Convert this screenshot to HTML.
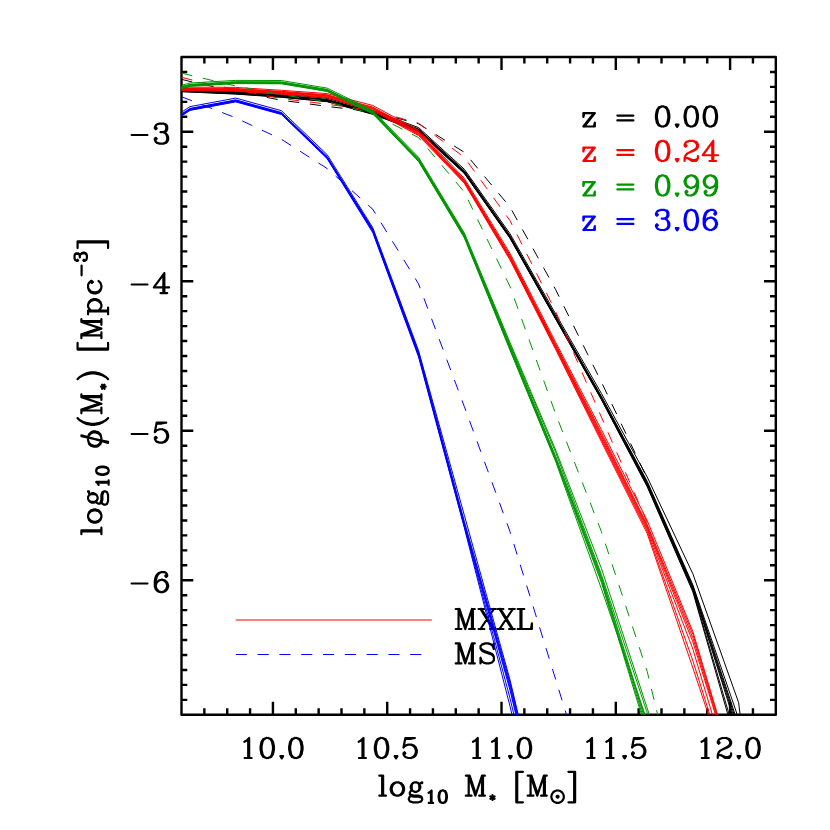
<!DOCTYPE html>
<html><head><meta charset="utf-8"><title>plot</title>
<style>html,body{margin:0;padding:0;background:#fff;font-family:"Liberation Sans",sans-serif}svg{display:block}</style></head>
<body>
<svg width="830" height="830" viewBox="0 0 830 830">
<rect width="830" height="830" fill="#fff"/>
<defs><clipPath id="c"><rect x="181.5" y="57.0" width="594.3" height="657.8"/></clipPath></defs>
<path d="M458.56 608.99L458.56 629M459.52 608.99L465.24 626.14M458.56 608.99L465.24 629M471.91 608.99L465.24 629M471.91 608.99L471.91 629M472.86 608.99L472.86 629M455.71 608.99L459.52 608.99M471.91 608.99L474.77 608.99M455.71 629L461.42 629M469.05 629L474.77 629M480.48 608.99L492.87 629M481.44 608.99L493.83 629M493.83 608.99L480.48 629M478.58 608.99L484.30 608.99M490.01 608.99L495.73 608.99M478.58 629L484.30 629M490.01 629L495.73 629M499.54 608.99L511.93 629M500.50 608.99L512.89 629M512.89 608.99L499.54 629M497.64 608.99L503.36 608.99M509.07 608.99L514.79 608.99M497.64 629L503.36 629M509.07 629L514.79 629M520.51 608.99L520.51 629M521.46 608.99L521.46 629M517.65 608.99L524.32 608.99M517.65 629L531.95 629L531.95 623.28L530.99 629" fill="none" stroke="#000" stroke-width="2.20" stroke-linecap="round" stroke-linejoin="round"/>
<path d="M458.56 643.39L458.56 663.40M459.52 643.39L465.24 660.54M458.56 643.39L465.24 663.40M471.91 643.39L465.24 663.40M471.91 643.39L471.91 663.40M472.86 643.39L472.86 663.40M455.71 643.39L459.52 643.39M471.91 643.39L474.77 643.39M455.71 663.40L461.42 663.40M469.05 663.40L474.77 663.40M492.87 646.25L493.83 643.39L493.83 649.11L492.87 646.25L490.97 644.34L488.11 643.39L485.25 643.39L482.39 644.34L480.48 646.25L480.48 648.15L481.44 650.06L482.39 651.01L484.30 651.96L490.01 653.87L491.92 654.82L493.83 656.73M480.48 648.15L482.39 650.06L484.30 651.01L490.01 652.92L491.92 653.87L492.87 654.82L493.83 656.73L493.83 660.54L491.92 662.45L489.06 663.40L486.20 663.40L483.34 662.45L481.44 660.54L480.48 657.68L480.48 663.40L481.44 660.54" fill="none" stroke="#000" stroke-width="2.20" stroke-linecap="round" stroke-linejoin="round"/>
<path d="M204.36 714.80v-6.60M204.36 57.00v6.60M227.22 714.80v-6.60M227.22 57.00v6.60M250.07 714.80v-6.60M250.07 57.00v6.60M272.93 714.80v-13.00M272.93 57.00v13.00M295.79 714.80v-6.60M295.79 57.00v6.60M318.65 714.80v-6.60M318.65 57.00v6.60M341.50 714.80v-6.60M341.50 57.00v6.60M364.36 714.80v-6.60M364.36 57.00v6.60M387.22 714.80v-13.00M387.22 57.00v13.00M410.08 714.80v-6.60M410.08 57.00v6.60M432.93 714.80v-6.60M432.93 57.00v6.60M455.79 714.80v-6.60M455.79 57.00v6.60M478.65 714.80v-6.60M478.65 57.00v6.60M501.51 714.80v-13.00M501.51 57.00v13.00M524.37 714.80v-6.60M524.37 57.00v6.60M547.22 714.80v-6.60M547.22 57.00v6.60M570.08 714.80v-6.60M570.08 57.00v6.60M592.94 714.80v-6.60M592.94 57.00v6.60M615.80 714.80v-13.00M615.80 57.00v13.00M638.65 714.80v-6.60M638.65 57.00v6.60M661.51 714.80v-6.60M661.51 57.00v6.60M684.37 714.80v-6.60M684.37 57.00v6.60M707.23 714.80v-6.60M707.23 57.00v6.60M730.08 714.80v-13.00M730.08 57.00v13.00M752.94 714.80v-6.60M752.94 57.00v6.60M181.50 699.85h5.80M775.80 699.85h-5.80M181.50 684.90h5.80M775.80 684.90h-5.80M181.50 669.95h5.80M775.80 669.95h-5.80M181.50 655.00h5.80M775.80 655.00h-5.80M181.50 640.05h5.80M775.80 640.05h-5.80M181.50 625.10h5.80M775.80 625.10h-5.80M181.50 610.15h5.80M775.80 610.15h-5.80M181.50 595.20h5.80M775.80 595.20h-5.80M181.50 580.25h11.80M775.80 580.25h-11.80M181.50 565.30h5.80M775.80 565.30h-5.80M181.50 550.35h5.80M775.80 550.35h-5.80M181.50 535.40h5.80M775.80 535.40h-5.80M181.50 520.45h5.80M775.80 520.45h-5.80M181.50 505.50h5.80M775.80 505.50h-5.80M181.50 490.55h5.80M775.80 490.55h-5.80M181.50 475.60h5.80M775.80 475.60h-5.80M181.50 460.65h5.80M775.80 460.65h-5.80M181.50 445.70h5.80M775.80 445.70h-5.80M181.50 430.75h11.80M775.80 430.75h-11.80M181.50 415.80h5.80M775.80 415.80h-5.80M181.50 400.85h5.80M775.80 400.85h-5.80M181.50 385.90h5.80M775.80 385.90h-5.80M181.50 370.95h5.80M775.80 370.95h-5.80M181.50 356.00h5.80M775.80 356.00h-5.80M181.50 341.05h5.80M775.80 341.05h-5.80M181.50 326.10h5.80M775.80 326.10h-5.80M181.50 311.15h5.80M775.80 311.15h-5.80M181.50 296.20h5.80M775.80 296.20h-5.80M181.50 281.25h11.80M775.80 281.25h-11.80M181.50 266.30h5.80M775.80 266.30h-5.80M181.50 251.35h5.80M775.80 251.35h-5.80M181.50 236.40h5.80M775.80 236.40h-5.80M181.50 221.45h5.80M775.80 221.45h-5.80M181.50 206.50h5.80M775.80 206.50h-5.80M181.50 191.55h5.80M775.80 191.55h-5.80M181.50 176.60h5.80M775.80 176.60h-5.80M181.50 161.65h5.80M775.80 161.65h-5.80M181.50 146.70h5.80M775.80 146.70h-5.80M181.50 131.75h11.80M775.80 131.75h-11.80M181.50 116.80h5.80M775.80 116.80h-5.80M181.50 101.85h5.80M775.80 101.85h-5.80M181.50 86.90h5.80M775.80 86.90h-5.80M181.50 71.95h5.80M775.80 71.95h-5.80" stroke="#000" stroke-width="2.40" fill="none" stroke-linecap="butt"/>
<rect x="181.50" y="57.00" width="594.30" height="657.80" fill="none" stroke="#000" stroke-width="2.40" stroke-linejoin="round"/>
<g clip-path="url(#c)" fill="none" stroke-linejoin="round">
<polyline points="235.8,620.0 431.8,620.0" stroke="#ff0000" stroke-width="1.0"/>
<polyline points="235.8,654.5 431.8,654.5" stroke="#0000ff" stroke-width="1.0" stroke-dasharray="11.1 10.7"/>
<polyline points="181.5,79.3 190.0,81.5 235.7,91.5 281.4,100.2 327.1,106.4 372.8,111.8 418.6,123.8 464.3,152.3 510.0,207.0 555.7,289.7 601.4,382.0 647.2,478.5" stroke="#000000" stroke-width="1.0" stroke-dasharray="11.1 10.7"/>
<polyline points="180.5,91.7 190.0,92.1 235.7,94.1 281.4,97.3 327.1,101.7 372.8,114.3 418.6,131.6 464.3,173.5 510.0,238.3 555.7,319.2 601.4,399.7 647.2,486.7 692.9,592.0 730.2,722.8" stroke="#000000" stroke-width="1.0"/>
<polyline points="180.5,91.4 190.0,91.8 235.7,93.8 281.4,97.0 327.1,101.4 372.8,114.0 418.6,131.3 464.3,173.1 510.0,238.0 555.7,318.9 601.4,399.3 647.2,486.0 692.9,590.5 731.6,722.8" stroke="#000000" stroke-width="1.0"/>
<polyline points="180.5,91.0 190.0,91.5 235.7,93.5 281.4,96.7 327.1,101.1 372.8,113.7 418.6,130.9 464.3,172.7 510.0,237.6 555.7,318.4 601.4,398.8 647.2,485.2 692.9,589.3 734.7,722.8" stroke="#000000" stroke-width="1.0"/>
<polyline points="180.5,90.7 190.0,91.1 235.7,93.1 281.4,96.3 327.1,100.7 372.8,113.2 418.6,130.4 464.3,172.3 510.0,237.2 555.7,317.9 601.4,398.2 647.2,484.3 692.9,588.3 735.7,722.8" stroke="#000000" stroke-width="1.0"/>
<polyline points="180.5,90.2 190.0,90.7 235.7,92.7 281.4,95.9 327.1,100.3 372.8,112.8 418.6,130.0 464.3,171.8 510.0,236.7 555.7,317.4 601.4,397.6 647.2,483.4 692.9,587.3 736.8,722.8" stroke="#000000" stroke-width="1.0"/>
<polyline points="180.5,89.9 190.0,90.3 235.7,92.3 281.4,95.5 327.1,99.9 372.8,112.4 418.6,129.5 464.3,171.3 510.0,236.2 555.7,316.8 601.4,397.0 647.2,482.4 692.9,586.3 737.8,722.8" stroke="#000000" stroke-width="1.0"/>
<polyline points="180.5,89.4 190.0,89.8 235.7,91.8 281.4,95.0 327.1,99.4 372.8,111.9 418.6,128.9 464.3,170.7 510.0,235.5 555.7,316.1 601.4,396.3 647.2,481.3 692.9,585.0 740.0,722.8" stroke="#000000" stroke-width="1.0"/>
<polyline points="180.5,88.2 190.0,88.7 235.7,90.7 281.4,93.9 327.1,98.3 372.8,110.7 418.6,127.6 464.3,169.2 510.0,233.7 555.7,314.0 601.4,393.4 647.2,477.0 692.9,573.9 738.6,702.5 740.8,719.8" stroke="#000000" stroke-width="1.0"/>
<polyline points="181.5,77.3 190.0,79.5 235.7,89.8 281.4,98.5 327.1,104.2 372.8,110.5 418.6,123.3 464.3,157.3 510.0,220.6 555.7,311.5 601.4,417.1 647.2,522.3 651.2,532.5" stroke="#ff0000" stroke-width="1.0" stroke-dasharray="11.1 10.7"/>
<polyline points="180.5,90.5 190.0,90.7 235.7,91.2 281.4,94.1 327.1,97.6 372.8,110.9 418.6,135.6 464.3,183.2 510.0,259.9 555.7,349.5 601.4,441.7 647.2,533.5 692.9,668.0 711.1,722.8" stroke="#ff0000" stroke-width="1.0"/>
<polyline points="180.5,90.0 190.0,90.1 235.7,90.6 281.4,93.5 327.1,97.0 372.8,110.0 418.6,134.7 464.3,182.4 510.0,258.9 555.7,348.4 601.4,439.9 647.2,531.2 692.9,660.8 712.3,722.8" stroke="#ff0000" stroke-width="1.0"/>
<polyline points="180.5,89.4 190.0,89.6 235.7,90.0 281.4,92.9 327.1,96.3 372.8,109.2 418.6,133.9 464.3,181.7 510.0,257.8 555.7,347.2 601.4,438.1 647.2,529.2 692.9,649.2 714.8,722.8" stroke="#ff0000" stroke-width="1.0"/>
<polyline points="180.5,89.0 190.0,89.1 235.7,89.5 281.4,92.4 327.1,95.8 372.8,108.5 418.6,133.2 464.3,181.1 510.0,257.0 555.7,346.3 601.4,436.3 647.2,527.4 692.9,641.9 718.0,722.8" stroke="#ff0000" stroke-width="1.0"/>
<polyline points="180.5,88.5 190.0,88.6 235.7,89.0 281.4,91.9 327.1,95.3 372.8,107.8 418.6,132.5 464.3,180.4 510.0,256.1 555.7,345.3 601.4,434.5 647.2,526.0 692.9,637.9 718.7,722.8" stroke="#ff0000" stroke-width="1.0"/>
<polyline points="180.5,88.1 190.0,88.1 235.7,88.5 281.4,91.4 327.1,94.8 372.8,107.1 418.6,131.8 464.3,179.8 510.0,255.2 555.7,344.4 601.4,432.7 647.2,524.6 692.9,634.3 719.4,722.8" stroke="#ff0000" stroke-width="1.0"/>
<polyline points="180.5,87.1 190.0,87.1 235.7,87.4 281.4,90.3 327.1,93.6 372.8,105.5 418.6,130.2 464.3,178.4 510.0,253.3 555.7,342.3 601.4,429.7 647.2,520.5 692.9,631.6 720.0,722.8" stroke="#ff0000" stroke-width="1.0"/>
<polyline points="181.5,73.1 190.0,75.2 235.7,86.0 281.4,94.8 327.1,101.6 372.8,113.8 418.6,137.7 464.3,192.0 510.0,286.5 555.7,414.1 601.4,531.6 647.2,671.5 658.7,718.9" stroke="#009600" stroke-width="1.0" stroke-dasharray="11.1 10.7"/>
<polyline points="180.5,88.9 190.0,86.3 235.7,83.6 281.4,83.8 327.1,91.5 372.8,113.9 418.6,161.6 464.3,237.8 510.0,350.2 555.7,461.6 601.4,588.8 647.9,722.8" stroke="#009600" stroke-width="1.0"/>
<polyline points="180.5,88.5 190.0,85.9 235.7,83.2 281.4,83.4 327.1,91.1 372.8,113.5 418.6,161.0 464.3,237.1 510.0,349.1 555.7,460.3 601.4,582.5 643.9,722.8" stroke="#009600" stroke-width="1.0"/>
<polyline points="180.5,88.1 190.0,85.5 235.7,82.8 281.4,83.0 327.1,90.6 372.8,113.0 418.6,160.4 464.3,236.3 510.0,348.0 555.7,459.0 601.4,580.5 644.9,722.8" stroke="#009600" stroke-width="1.0"/>
<polyline points="180.5,87.7 190.0,85.1 235.7,82.5 281.4,82.6 327.1,90.2 372.8,112.6 418.6,159.8 464.3,235.6 510.0,346.9 555.7,457.7 601.4,578.5 646.0,722.8" stroke="#009600" stroke-width="1.0"/>
<polyline points="180.5,87.3 190.0,84.7 235.7,82.0 281.4,82.2 327.1,89.8 372.8,112.2 418.6,159.2 464.3,234.8 510.0,345.8 555.7,456.4 601.4,576.5 646.9,722.8" stroke="#009600" stroke-width="1.0"/>
<polyline points="180.5,87.0 190.0,84.4 235.7,81.7 281.4,81.9 327.1,89.4 372.8,111.8 418.6,158.3 464.3,233.9 510.0,344.2 555.7,452.5 601.4,574.5 650.5,722.8" stroke="#009600" stroke-width="1.0"/>
<polyline points="180.5,85.6 190.0,83.0 235.7,80.4 281.4,80.5 327.1,88.1 372.8,110.5 418.6,157.3 464.3,232.9 510.0,342.5 555.7,450.0 601.4,568.3 652.0,722.8" stroke="#009600" stroke-width="1.0"/>
<polyline points="181.5,96.8 190.0,100.0 235.7,117.8 281.4,139.3 327.1,168.5 372.8,209.3 418.6,284.0 464.3,406.5 510.0,531.6 555.7,679.5 568.5,721.3" stroke="#0000ff" stroke-width="1.0" stroke-dasharray="11.1 10.7"/>
<polyline points="180.5,116.7 190.0,110.4 235.7,101.9 281.4,114.5 327.1,158.6 372.8,232.7 418.6,357.1 464.3,527.7 510.0,706.2 519.0,744.0" stroke="#0000ff" stroke-width="1.0"/>
<polyline points="180.5,116.3 190.0,110.0 235.7,101.5 281.4,114.1 327.1,158.2 372.8,231.8 418.6,355.9 464.3,526.4 510.0,698.2 519.0,736.0" stroke="#0000ff" stroke-width="1.0"/>
<polyline points="180.5,115.9 190.0,109.6 235.7,101.1 281.4,113.7 327.1,157.8 372.8,231.0 418.6,354.9 464.3,525.3 510.0,690.2 519.0,728.0" stroke="#0000ff" stroke-width="1.0"/>
<polyline points="180.5,115.5 190.0,109.2 235.7,100.7 281.4,113.3 327.1,157.3 372.8,230.4 418.6,354.1 464.3,524.1 510.0,687.6 519.0,725.4" stroke="#0000ff" stroke-width="1.0"/>
<polyline points="180.5,115.1 190.0,108.8 235.7,100.3 281.4,112.9 327.1,156.9 372.8,229.8 418.6,353.3 464.3,523.0 510.0,685.0 519.0,722.8" stroke="#0000ff" stroke-width="1.0"/>
<polyline points="180.5,114.7 190.0,108.4 235.7,99.9 281.4,112.5 327.1,156.5 372.8,229.0 418.6,352.3 464.3,521.3 510.0,682.4 519.0,720.2" stroke="#0000ff" stroke-width="1.0"/>
<polyline points="180.5,112.9 190.0,106.6 235.7,98.1 281.4,110.7 327.1,154.6 372.8,227.7 418.6,350.7 464.3,515.2 510.0,679.8 519.0,717.6" stroke="#0000ff" stroke-width="1.0"/>
</g>
<path d="M244.39 741.80L246.30 740.85L249.16 737.99L249.16 758M248.21 738.94L248.21 758M244.68 758L251.64 758M266.31 737.99L263.45 738.94L261.55 741.80L260.59 746.56L260.59 749.42L261.55 754.19L263.45 757.05L266.31 758L268.22 758L271.08 757.05L272.98 754.19L273.94 749.42L273.94 746.56L272.98 741.80L271.08 738.94L268.22 737.99L266.31 737.99M266.31 737.99L264.41 738.94L263.45 739.89L262.50 741.80L261.55 746.56L261.55 749.42L262.50 754.19L263.45 756.09L264.41 757.05L266.31 758M268.22 758L270.12 757.05L271.08 756.09L272.03 754.19L272.98 749.42L272.98 746.56L272.03 741.80L271.08 739.89L270.12 738.94L268.22 737.99M280.42 756.09L283.09 756.09L281.75 758.38L280.42 756.09M294.90 737.99L292.04 738.94L290.14 741.80L289.18 746.56L289.18 749.42L290.14 754.19L292.04 757.05L294.90 758L296.81 758L299.67 757.05L301.57 754.19L302.53 749.42L302.53 746.56L301.57 741.80L299.67 738.94L296.81 737.99L294.90 737.99M294.90 737.99L293 738.94L292.04 739.89L291.09 741.80L290.14 746.56L290.14 749.42L291.09 754.19L292.04 756.09L293 757.05L294.90 758M296.81 758L298.71 757.05L299.67 756.09L300.62 754.19L301.57 749.42L301.57 746.56L300.62 741.80L299.67 739.89L298.71 738.94L296.81 737.99" fill="none" stroke="#000" stroke-width="2.20" stroke-linecap="round" stroke-linejoin="round"/>
<path d="M358.68 741.80L360.59 740.85L363.45 737.99L363.45 758M362.49 738.94L362.49 758M358.97 758L365.93 758M380.60 737.99L377.74 738.94L375.84 741.80L374.88 746.56L374.88 749.42L375.84 754.19L377.74 757.05L380.60 758L382.51 758L385.37 757.05L387.27 754.19L388.23 749.42L388.23 746.56L387.27 741.80L385.37 738.94L382.51 737.99L380.60 737.99M380.60 737.99L378.70 738.94L377.74 739.89L376.79 741.80L375.84 746.56L375.84 749.42L376.79 754.19L377.74 756.09L378.70 757.05L380.60 758M382.51 758L384.41 757.05L385.37 756.09L386.32 754.19L387.27 749.42L387.27 746.56L386.32 741.80L385.37 739.89L384.41 738.94L382.51 737.99M394.71 756.09L397.37 756.09L396.04 758.38L394.71 756.09M405.38 737.99L403.47 747.52M403.47 747.52L405.38 745.61L408.24 744.66L411.10 744.66L413.96 745.61L415.86 747.52L416.82 750.38L416.82 752.28L415.86 755.14L413.96 757.05L411.10 758L408.24 758L405.38 757.05L404.43 756.09L403.47 754.19L403.47 753.24L404.43 752.28L405.38 753.24L404.43 754.19M411.10 744.66L413 745.61L414.91 747.52L415.86 750.38L415.86 752.28L414.91 755.14L413 757.05L411.10 758M405.38 737.99L414.91 737.99M405.38 738.94L410.14 738.94L414.91 737.99" fill="none" stroke="#000" stroke-width="2.20" stroke-linecap="round" stroke-linejoin="round"/>
<path d="M472.97 741.80L474.88 740.85L477.74 737.99L477.74 758M476.78 738.94L476.78 758M473.26 758L480.21 758M492.03 741.80L493.94 740.85L496.80 737.99L496.80 758M495.84 738.94L495.84 758M492.32 758L499.27 758M508.99 756.09L511.66 756.09L510.33 758.38L508.99 756.09M523.48 737.99L520.62 738.94L518.71 741.80L517.76 746.56L517.76 749.42L518.71 754.19L520.62 757.05L523.48 758L525.39 758L528.24 757.05L530.15 754.19L531.10 749.42L531.10 746.56L530.15 741.80L528.24 738.94L525.39 737.99L523.48 737.99M523.48 737.99L521.57 738.94L520.62 739.89L519.67 741.80L518.71 746.56L518.71 749.42L519.67 754.19L520.62 756.09L521.57 757.05L523.48 758M525.39 758L527.29 757.05L528.24 756.09L529.20 754.19L530.15 749.42L530.15 746.56L529.20 741.80L528.24 739.89L527.29 738.94L525.39 737.99" fill="none" stroke="#000" stroke-width="2.20" stroke-linecap="round" stroke-linejoin="round"/>
<path d="M587.26 741.80L589.17 740.85L592.02 737.99L592.02 758M591.07 738.94L591.07 758M587.55 758L594.50 758M606.32 741.80L608.23 740.85L611.08 737.99L611.08 758M610.13 738.94L610.13 758M606.61 758L613.56 758M623.28 756.09L625.95 756.09L624.62 758.38L623.28 756.09M633.96 737.99L632.05 747.52M632.05 747.52L633.96 745.61L636.82 744.66L639.67 744.66L642.53 745.61L644.44 747.52L645.39 750.38L645.39 752.28L644.44 755.14L642.53 757.05L639.67 758L636.82 758L633.96 757.05L633 756.09L632.05 754.19L632.05 753.24L633 752.28L633.96 753.24L633 754.19M639.67 744.66L641.58 745.61L643.49 747.52L644.44 750.38L644.44 752.28L643.49 755.14L641.58 757.05L639.67 758M633.96 737.99L643.49 737.99M633.96 738.94L638.72 738.94L643.49 737.99" fill="none" stroke="#000" stroke-width="2.20" stroke-linecap="round" stroke-linejoin="round"/>
<path d="M701.55 741.80L703.45 740.85L706.31 737.99L706.31 758M705.36 738.94L705.36 758M701.83 758L708.79 758M718.70 741.80L719.65 742.75L718.70 743.71L717.75 742.75L717.75 741.80L718.70 739.89L719.65 738.94L722.51 737.99L726.33 737.99L729.18 738.94L730.14 739.89L731.09 741.80L731.09 743.71L730.14 745.61L727.28 747.52L722.51 749.42L720.61 750.38L718.70 752.28L717.75 755.14L717.75 758M726.33 737.99L728.23 738.94L729.18 739.89L730.14 741.80L730.14 743.71L729.18 745.61L726.33 747.52L722.51 749.42M717.75 756.09L718.70 755.14L720.61 755.14L725.37 757.05L728.23 757.05L730.14 756.09L731.09 755.14M720.61 755.14L725.37 758L729.18 758L730.14 757.05L731.09 755.14L731.09 753.24M737.57 756.09L740.24 756.09L738.91 758.38L737.57 756.09M752.06 737.99L749.20 738.94L747.29 741.80L746.34 746.56L746.34 749.42L747.29 754.19L749.20 757.05L752.06 758L753.96 758L756.82 757.05L758.73 754.19L759.68 749.42L759.68 746.56L758.73 741.80L756.82 738.94L753.96 737.99L752.06 737.99M752.06 737.99L750.15 738.94L749.20 739.89L748.24 741.80L747.29 746.56L747.29 749.42L748.24 754.19L749.20 756.09L750.15 757.05L752.06 758M753.96 758L755.87 757.05L756.82 756.09L757.77 754.19L758.73 749.42L758.73 746.56L757.77 741.80L756.82 739.89L755.87 738.94L753.96 737.99" fill="none" stroke="#000" stroke-width="2.20" stroke-linecap="round" stroke-linejoin="round"/>
<path d="M131.64 135.02L147.46 135.02M155.75 127.40L156.71 128.35L155.75 129.31L154.80 128.35L154.80 127.40L155.75 125.49L156.71 124.54L159.56 123.59L163.38 123.59L166.24 124.54L167.19 126.45L167.19 129.31L166.24 131.21L163.38 132.16L160.52 132.16M163.38 123.59L165.28 124.54L166.24 126.45L166.24 129.31L165.28 131.21L163.38 132.16M163.38 132.16L165.28 133.12L167.19 135.02L168.14 136.93L168.14 139.79L167.19 141.69L166.24 142.65L163.38 143.60L159.56 143.60L156.71 142.65L155.75 141.69L154.80 139.79L154.80 138.84L155.75 137.88L156.71 138.84L155.75 139.79M166.24 134.07L167.19 136.93L167.19 139.79L166.24 141.69L165.28 142.65L163.38 143.60" fill="none" stroke="#000" stroke-width="2.20" stroke-linecap="round" stroke-linejoin="round"/>
<path d="M131.64 284.52L147.46 284.52M163.38 274.99L163.38 293.10M164.33 273.09L164.33 293.10M164.33 273.09L153.85 287.38L169.09 287.38M160.52 293.10L167.19 293.10" fill="none" stroke="#000" stroke-width="2.20" stroke-linecap="round" stroke-linejoin="round"/>
<path d="M131.64 434.02L147.46 434.02M156.71 422.59L154.80 432.12M154.80 432.12L156.71 430.21L159.56 429.26L162.42 429.26L165.28 430.21L167.19 432.12L168.14 434.98L168.14 436.88L167.19 439.74L165.28 441.65L162.42 442.60L159.56 442.60L156.71 441.65L155.75 440.69L154.80 438.79L154.80 437.83L155.75 436.88L156.71 437.83L155.75 438.79M162.42 429.26L164.33 430.21L166.24 432.12L167.19 434.98L167.19 436.88L166.24 439.74L164.33 441.65L162.42 442.60M156.71 422.59L166.24 422.59M156.71 423.54L161.47 423.54L166.24 422.59" fill="none" stroke="#000" stroke-width="2.20" stroke-linecap="round" stroke-linejoin="round"/>
<path d="M131.64 583.52L147.46 583.52M166.24 574.95L165.28 575.90L166.24 576.85L167.19 575.90L167.19 574.95L166.24 573.04L164.33 572.09L161.47 572.09L158.61 573.04L156.71 574.95L155.75 576.85L154.80 580.66L154.80 586.38L155.75 589.24L157.66 591.15L160.52 592.10L162.42 592.10L165.28 591.15L167.19 589.24L168.14 586.38L168.14 585.43L167.19 582.57L165.28 580.66L162.42 579.71L161.47 579.71L158.61 580.66L156.71 582.57L155.75 585.43M161.47 572.09L159.56 573.04L157.66 574.95L156.71 576.85L155.75 580.66L155.75 586.38L156.71 589.24L158.61 591.15L160.52 592.10M162.42 592.10L164.33 591.15L166.24 589.24L167.19 586.38L167.19 585.43L166.24 582.57L164.33 580.66L162.42 579.71" fill="none" stroke="#000" stroke-width="2.20" stroke-linecap="round" stroke-linejoin="round"/>
<path d="M382.16 775.64L382.16 795.65M383.12 775.64L383.12 795.65M379.31 775.64L383.12 775.64M379.31 795.65L385.98 795.65M396.46 782.31L393.60 783.26L391.69 785.17L390.74 788.03L390.74 789.93L391.69 792.79L393.60 794.70L396.46 795.65L398.37 795.65L401.22 794.70L403.13 792.79L404.08 789.93L404.08 788.03L403.13 785.17L401.22 783.26L398.37 782.31L396.46 782.31M396.46 782.31L394.55 783.26L392.65 785.17L391.69 788.03L391.69 789.93L392.65 792.79L394.55 794.70L396.46 795.65M398.37 795.65L400.27 794.70L402.18 792.79L403.13 789.93L403.13 788.03L402.18 785.17L400.27 783.26L398.37 782.31M414.57 782.31L412.66 783.26L411.71 784.21L410.75 786.12L410.75 788.03L411.71 789.93L412.66 790.88L414.57 791.84L416.47 791.84L418.38 790.88L419.33 789.93L420.28 788.03L420.28 786.12L419.33 784.21L418.38 783.26L416.47 782.31L414.57 782.31M412.66 783.26L411.71 785.17L411.71 788.98L412.66 790.88M418.38 790.88L419.33 788.98L419.33 785.17L418.38 783.26M419.33 784.21L420.28 783.26L422.19 782.31L422.19 783.26L420.28 783.26M411.71 789.93L410.75 790.88L409.80 792.79L409.80 793.74L410.75 795.65L413.61 796.60L418.38 796.60L421.24 797.56L422.19 798.51M409.80 793.74L410.75 794.70L413.61 795.65L418.38 795.65L421.24 796.60L422.19 798.51L422.19 799.46L421.24 801.37L418.38 802.32L412.66 802.32L409.80 801.37L408.85 799.46L408.85 798.51L409.80 796.60L412.66 795.65M428.60 792.85L429.78 792.26L431.55 790.48L431.55 802.89M430.96 791.08L430.96 802.89M428.77 802.89L433.09 802.89M442.18 790.48L440.41 791.08L439.23 792.85L438.64 795.80L438.64 797.58L439.23 800.53L440.41 802.30L442.18 802.89L443.37 802.89L445.14 802.30L446.32 800.53L446.91 797.58L446.91 795.80L446.32 792.85L445.14 791.08L443.37 790.48L442.18 790.48M442.18 790.48L441 791.08L440.41 791.67L439.82 792.85L439.23 795.80L439.23 797.58L439.82 800.53L440.41 801.71L441 802.30L442.18 802.89M443.37 802.89L444.55 802.30L445.14 801.71L445.73 800.53L446.32 797.58L446.32 795.80L445.73 792.85L445.14 791.67L444.55 791.08L443.37 790.48M468.70 775.64L468.70 795.65M469.65 775.64L475.37 792.79M468.70 775.64L475.37 795.65M482.04 775.64L475.37 795.65M482.04 775.64L482.04 795.65M482.99 775.64L482.99 795.65M465.84 775.64L469.65 775.64M482.04 775.64L484.90 775.64M465.84 795.65L471.56 795.65M479.18 795.65L484.90 795.65M492.48 795.21L492.48 799.94M490.42 796.39L494.55 798.76M494.55 796.39L490.42 798.76M516.27 771.82L516.27 802.32M517.22 771.82L517.22 802.32M516.27 771.82L522.94 771.82M516.27 802.32L522.94 802.32M530.57 775.64L530.57 795.65M531.52 775.64L537.24 792.79M530.57 775.64L537.24 795.65M543.91 775.64L537.24 795.65M543.91 775.64L543.91 795.65M544.86 775.64L544.86 795.65M527.71 775.64L531.52 775.64M543.91 775.64L546.77 775.64M527.71 795.65L533.43 795.65M541.05 795.65L546.77 795.65M556.72 790.48L554.94 791.08L553.17 792.26L551.99 794.03L551.40 795.80L551.40 797.58L551.99 799.35L553.17 801.12L554.94 802.30L556.72 802.89L558.49 802.89L560.26 802.30L562.03 801.12L563.22 799.35L563.81 797.58L563.81 795.80L563.22 794.03L562.03 792.26L560.26 791.08L558.49 790.48L556.72 790.48M557.31 795.80L556.72 796.39L556.72 796.98L557.31 797.58L557.90 797.58L558.49 796.98L558.49 796.39L557.90 795.80L557.31 795.80M557.31 796.39L557.31 796.98L557.90 796.98L557.90 796.39L557.31 796.39M574.16 771.82L574.16 802.32M575.11 771.82L575.11 802.32M568.44 771.82L575.11 771.82M568.44 802.32L575.11 802.32" fill="none" stroke="#000" stroke-width="2.20" stroke-linecap="round" stroke-linejoin="round"/>
<path d="M81.39 531.34L101.40 531.34M81.39 530.38L101.40 530.38M81.39 534.19L81.39 530.38M101.40 534.19L101.40 527.52M88.06 517.04L89.01 519.90L90.92 521.81L93.78 522.76L95.68 522.76L98.54 521.81L100.45 519.90L101.40 517.04L101.40 515.13L100.45 512.27L98.54 510.37L95.68 509.42L93.78 509.42L90.92 510.37L89.01 512.27L88.06 515.13L88.06 517.04M88.06 517.04L89.01 518.95L90.92 520.85L93.78 521.81L95.68 521.81L98.54 520.85L100.45 518.95L101.40 517.04M101.40 515.13L100.45 513.23L98.54 511.32L95.68 510.37L93.78 510.37L90.92 511.32L89.01 513.23L88.06 515.13M88.06 498.93L89.01 500.84L89.96 501.79L91.87 502.75L93.78 502.75L95.68 501.79L96.64 500.84L97.59 498.93L97.59 497.03L96.64 495.12L95.68 494.17L93.78 493.22L91.87 493.22L89.96 494.17L89.01 495.12L88.06 497.03L88.06 498.93M89.01 500.84L90.92 501.79L94.73 501.79L96.64 500.84M96.64 495.12L94.73 494.17L90.92 494.17L89.01 495.12M89.96 494.17L89.01 493.22L88.06 491.31L89.01 491.31L89.01 493.22M95.68 501.79L96.64 502.75L98.54 503.70L99.49 503.70L101.40 502.75L102.35 499.89L102.35 495.12L103.31 492.26L104.26 491.31M99.49 503.70L100.45 502.75L101.40 499.89L101.40 495.12L102.35 492.26L104.26 491.31L105.21 491.31L107.12 492.26L108.07 495.12L108.07 500.84L107.12 503.70L105.21 504.65L104.26 504.65L102.35 503.70L101.40 500.84M98.60 484.90L98.01 483.72L96.23 481.95L108.64 481.95M96.83 482.54L108.64 482.54M108.64 484.73L108.64 480.41M96.23 471.32L96.83 473.09L98.60 474.27L101.55 474.86L103.33 474.86L106.28 474.27L108.05 473.09L108.64 471.32L108.64 470.13L108.05 468.36L106.28 467.18L103.33 466.59L101.55 466.59L98.60 467.18L96.83 468.36L96.23 470.13L96.23 471.32M96.23 471.32L96.83 472.50L97.42 473.09L98.60 473.68L101.55 474.27L103.33 474.27L106.28 473.68L107.46 473.09L108.05 472.50L108.64 471.32M108.64 470.13L108.05 468.95L107.46 468.36L106.28 467.77L103.33 467.18L101.55 467.18L98.60 467.77L97.42 468.36L96.83 468.95L96.23 470.13M81.39 436.23L108.07 441.94M81.39 435.27L108.07 442.90M88.06 440.04L89.01 443.85L90.92 445.76L93.78 446.71L96.64 446.71L98.54 445.76L100.45 443.85L101.40 440.99L101.40 438.13L100.45 434.32L98.54 432.41L95.68 431.46L92.82 431.46L90.92 432.41L89.01 434.32L88.06 437.18L88.06 440.04M88.06 440.04L89.01 442.90L90.92 444.80L93.78 445.76L96.64 445.76L98.54 444.80L100.45 442.90L101.40 440.99M101.40 438.13L100.45 435.27L98.54 433.37L95.68 432.41L92.82 432.41L90.92 433.37L89.01 435.27L88.06 437.18M77.58 418.12L79.48 420.02L82.34 421.93L86.15 423.84L90.92 424.79L94.73 424.79L99.49 423.84L103.31 421.93L106.17 420.02L108.07 418.12M79.48 420.02L83.29 421.93L86.15 422.88L90.92 423.84L94.73 423.84L99.49 422.88L102.35 421.93L106.17 420.02M81.39 410.49L101.40 410.49M81.39 409.54L98.54 403.82M81.39 410.49L101.40 403.82M81.39 397.15L101.40 403.82M81.39 397.15L101.40 397.15M81.39 396.20L101.40 396.20M81.39 413.35L81.39 409.54M81.39 397.15L81.39 394.29M101.40 413.35L101.40 407.64M101.40 400.01L101.40 394.29M100.96 386.71L105.69 386.71M102.14 388.78L104.51 384.64M102.14 384.64L104.51 388.78M77.58 379.12L79.48 377.22L82.34 375.31L86.15 373.40L90.92 372.45L94.73 372.45L99.49 373.40L103.31 375.31L106.17 377.22L108.07 379.12M79.48 377.22L83.29 375.31L86.15 374.36L90.92 373.40L94.73 373.40L99.49 374.36L102.35 375.31L106.17 377.22M77.58 349.58L108.07 349.58M77.58 348.63L108.07 348.63M77.58 349.58L77.58 342.91M108.07 349.58L108.07 342.91M81.39 335.28L101.40 335.28M81.39 334.33L98.54 328.61M81.39 335.28L101.40 328.61M81.39 321.94L101.40 328.61M81.39 321.94L101.40 321.94M81.39 320.99L101.40 320.99M81.39 338.14L81.39 334.33M81.39 321.94L81.39 319.08M101.40 338.14L101.40 332.42M101.40 324.80L101.40 319.08M88.06 311.46L108.07 311.46M88.06 310.51L108.07 310.51M90.92 310.51L89.01 308.60L88.06 306.69L88.06 304.79L89.01 301.93L90.92 300.02L93.78 299.07L95.68 299.07L98.54 300.02L100.45 301.93L101.40 304.79L101.40 306.69L100.45 308.60L98.54 310.51M88.06 304.79L89.01 302.88L90.92 300.98L93.78 300.02L95.68 300.02L98.54 300.98L100.45 302.88L101.40 304.79M88.06 314.32L88.06 310.51M108.07 314.32L108.07 307.65M90.92 281.92L91.87 282.87L92.82 281.92L91.87 280.96L90.92 280.96L89.01 282.87L88.06 284.77L88.06 287.63L89.01 290.49L90.92 292.40L93.78 293.35L95.68 293.35L98.54 292.40L100.45 290.49L101.40 287.63L101.40 285.73L100.45 282.87L98.54 280.96M88.06 287.63L89.01 289.54L90.92 291.45L93.78 292.40L95.68 292.40L98.54 291.45L100.45 289.54L101.40 287.63M81.60 275.33L81.60 265.52M76.87 260.38L77.46 259.79L78.05 260.38L77.46 260.97L76.87 260.97L75.69 260.38L75.10 259.79L74.51 258.01L74.51 255.65L75.10 253.88L76.28 253.29L78.05 253.29L79.23 253.88L79.82 255.65L79.82 257.42M74.51 255.65L75.10 254.47L76.28 253.88L78.05 253.88L79.23 254.47L79.82 255.65M79.82 255.65L80.41 254.47L81.60 253.29L82.78 252.70L84.55 252.70L85.73 253.29L86.32 253.88L86.91 255.65L86.91 258.01L86.32 259.79L85.73 260.38L84.55 260.97L83.96 260.97L83.37 260.38L83.96 259.79L84.55 260.38M81.01 253.88L82.78 253.29L84.55 253.29L85.73 253.88L86.32 254.47L86.91 255.65M77.58 242.35L108.07 242.35M77.58 241.39L108.07 241.39M77.58 248.07L77.58 241.39M108.07 248.07L108.07 241.39" fill="none" stroke="#000" stroke-width="2.20" stroke-linecap="round" stroke-linejoin="round"/>
<path d="M593.87 113.13L583.37 126.50M594.83 113.13L584.32 126.50M584.32 113.13L583.37 116.95L583.37 113.13L594.83 113.13M583.37 126.50L594.83 126.50L594.83 122.68L593.87 126.50M617.36 115.61L633.41 115.61M617.36 120.39L633.41 120.39M661.67 106.44L658.81 107.40L656.90 110.27L655.94 115.04L655.94 117.91L656.90 122.68L658.81 125.55L661.67 126.50L663.59 126.50L666.45 125.55L668.36 122.68L669.32 117.91L669.32 115.04L668.36 110.27L666.45 107.40L663.59 106.44L661.67 106.44M661.67 106.44L659.76 107.40L658.81 108.36L657.86 110.27L656.90 115.04L656.90 117.91L657.86 122.68L658.81 124.59L659.76 125.55L661.67 126.50M663.59 126.50L665.50 125.55L666.45 124.59L667.40 122.68L668.36 117.91L668.36 115.04L667.40 110.27L666.45 108.36L665.50 107.40L663.59 106.44M675.81 124.59L678.48 124.59L677.15 126.88L675.81 124.59M690.33 106.44L687.46 107.40L685.55 110.27L684.60 115.04L684.60 117.91L685.55 122.68L687.46 125.55L690.33 126.50L692.24 126.50L695.10 125.55L697.01 122.68L697.97 117.91L697.97 115.04L697.01 110.27L695.10 107.40L692.24 106.44L690.33 106.44M690.33 106.44L688.41 107.40L687.46 108.36L686.50 110.27L685.55 115.04L685.55 117.91L686.50 122.68L687.46 124.59L688.41 125.55L690.33 126.50M692.24 126.50L694.14 125.55L695.10 124.59L696.05 122.68L697.01 117.91L697.01 115.04L696.05 110.27L695.10 108.36L694.14 107.40L692.24 106.44M709.42 106.44L706.56 107.40L704.65 110.27L703.69 115.04L703.69 117.91L704.65 122.68L706.56 125.55L709.42 126.50L711.34 126.50L714.20 125.55L716.11 122.68L717.07 117.91L717.07 115.04L716.11 110.27L714.20 107.40L711.34 106.44L709.42 106.44M709.42 106.44L707.51 107.40L706.56 108.36L705.61 110.27L704.65 115.04L704.65 117.91L705.61 122.68L706.56 124.59L707.51 125.55L709.42 126.50M711.34 126.50L713.25 125.55L714.20 124.59L715.15 122.68L716.11 117.91L716.11 115.04L715.15 110.27L714.20 108.36L713.25 107.40L711.34 106.44" fill="none" stroke="#000" stroke-width="2.20" stroke-linecap="round" stroke-linejoin="round"/>
<path d="M593.87 147.63L583.37 161M594.83 147.63L584.32 161M584.32 147.63L583.37 151.45L583.37 147.63L594.83 147.63M583.37 161L594.83 161L594.83 157.18L593.87 161M617.36 150.11L633.41 150.11M617.36 154.89L633.41 154.89M661.67 140.94L658.81 141.90L656.90 144.76L655.94 149.54L655.94 152.41L656.90 157.18L658.81 160.04L661.67 161L663.59 161L666.45 160.04L668.36 157.18L669.32 152.41L669.32 149.54L668.36 144.76L666.45 141.90L663.59 140.94L661.67 140.94M661.67 140.94L659.76 141.90L658.81 142.85L657.86 144.76L656.90 149.54L656.90 152.41L657.86 157.18L658.81 159.09L659.76 160.04L661.67 161M663.59 161L665.50 160.04L666.45 159.09L667.40 157.18L668.36 152.41L668.36 149.54L667.40 144.76L666.45 142.85L665.50 141.90L663.59 140.94M675.81 159.09L678.48 159.09L677.15 161.38L675.81 159.09M685.55 144.76L686.50 145.72L685.55 146.68L684.60 145.72L684.60 144.76L685.55 142.85L686.50 141.90L689.37 140.94L693.19 140.94L696.05 141.90L697.01 142.85L697.97 144.76L697.97 146.68L697.01 148.59L694.14 150.50L689.37 152.41L687.46 153.36L685.55 155.27L684.60 158.13L684.60 161M693.19 140.94L695.10 141.90L696.05 142.85L697.01 144.76L697.01 146.68L696.05 148.59L693.19 150.50L689.37 152.41M684.60 159.09L685.55 158.13L687.46 158.13L692.24 160.04L695.10 160.04L697.01 159.09L697.97 158.13M687.46 158.13L692.24 161L696.05 161L697.01 160.04L697.97 158.13L697.97 156.22M712.29 142.85L712.29 161M713.25 140.94L713.25 161M713.25 140.94L702.74 155.27L718.02 155.27M709.42 161L716.11 161" fill="none" stroke="#f00" stroke-width="2.20" stroke-linecap="round" stroke-linejoin="round"/>
<path d="M593.87 182.13L583.37 195.50M594.83 182.13L584.32 195.50M584.32 182.13L583.37 185.95L583.37 182.13L594.83 182.13M583.37 195.50L594.83 195.50L594.83 191.68L593.87 195.50M617.36 184.61L633.41 184.61M617.36 189.39L633.41 189.39M661.67 175.44L658.81 176.40L656.90 179.26L655.94 184.04L655.94 186.91L656.90 191.68L658.81 194.54L661.67 195.50L663.59 195.50L666.45 194.54L668.36 191.68L669.32 186.91L669.32 184.04L668.36 179.26L666.45 176.40L663.59 175.44L661.67 175.44M661.67 175.44L659.76 176.40L658.81 177.35L657.86 179.26L656.90 184.04L656.90 186.91L657.86 191.68L658.81 193.59L659.76 194.54L661.67 195.50M663.59 195.50L665.50 194.54L666.45 193.59L667.40 191.68L668.36 186.91L668.36 184.04L667.40 179.26L666.45 177.35L665.50 176.40L663.59 175.44M675.81 193.59L678.48 193.59L677.15 195.88L675.81 193.59M697.01 182.13L696.05 185L694.14 186.91L691.28 187.86L690.33 187.86L687.46 186.91L685.55 185L684.60 182.13L684.60 181.18L685.55 178.31L687.46 176.40L690.33 175.44L692.24 175.44L695.10 176.40L697.01 178.31L697.97 181.18L697.97 186.91L697.01 190.72L696.05 192.63L694.14 194.54L691.28 195.50L688.41 195.50L686.50 194.54L685.55 192.63L685.55 191.68L686.50 190.72L687.46 191.68L686.50 192.63M690.33 187.86L688.41 186.91L686.50 185L685.55 182.13L685.55 181.18L686.50 178.31L688.41 176.40L690.33 175.44M692.24 175.44L694.14 176.40L696.05 178.31L697.01 181.18L697.01 186.91L696.05 190.72L695.10 192.63L693.19 194.54L691.28 195.50M716.11 182.13L715.15 185L713.25 186.91L710.38 187.86L709.42 187.86L706.56 186.91L704.65 185L703.69 182.13L703.69 181.18L704.65 178.31L706.56 176.40L709.42 175.44L711.34 175.44L714.20 176.40L716.11 178.31L717.07 181.18L717.07 186.91L716.11 190.72L715.15 192.63L713.25 194.54L710.38 195.50L707.51 195.50L705.61 194.54L704.65 192.63L704.65 191.68L705.61 190.72L706.56 191.68L705.61 192.63M709.42 187.86L707.51 186.91L705.61 185L704.65 182.13L704.65 181.18L705.61 178.31L707.51 176.40L709.42 175.44M711.34 175.44L713.25 176.40L715.15 178.31L716.11 181.18L716.11 186.91L715.15 190.72L714.20 192.63L712.29 194.54L710.38 195.50" fill="none" stroke="#009600" stroke-width="2.20" stroke-linecap="round" stroke-linejoin="round"/>
<path d="M593.87 216.63L583.37 230M594.83 216.63L584.32 230M584.32 216.63L583.37 220.45L583.37 216.63L594.83 216.63M583.37 230L594.83 230L594.83 226.18L593.87 230M617.36 219.11L633.41 219.11M617.36 223.89L633.41 223.89M656.90 213.76L657.86 214.72L656.90 215.68L655.94 214.72L655.94 213.76L656.90 211.85L657.86 210.90L660.72 209.94L664.54 209.94L667.40 210.90L668.36 212.81L668.36 215.68L667.40 217.59L664.54 218.54L661.67 218.54M664.54 209.94L666.45 210.90L667.40 212.81L667.40 215.68L666.45 217.59L664.54 218.54M664.54 218.54L666.45 219.50L668.36 221.41L669.32 223.31L669.32 226.18L668.36 228.09L667.40 229.04L664.54 230L660.72 230L657.86 229.04L656.90 228.09L655.94 226.18L655.94 225.22L656.90 224.27L657.86 225.22L656.90 226.18M667.40 220.45L668.36 223.31L668.36 226.18L667.40 228.09L666.45 229.04L664.54 230M675.81 228.09L678.48 228.09L677.15 230.38L675.81 228.09M690.33 209.94L687.46 210.90L685.55 213.76L684.60 218.54L684.60 221.41L685.55 226.18L687.46 229.04L690.33 230L692.24 230L695.10 229.04L697.01 226.18L697.97 221.41L697.97 218.54L697.01 213.76L695.10 210.90L692.24 209.94L690.33 209.94M690.33 209.94L688.41 210.90L687.46 211.85L686.50 213.76L685.55 218.54L685.55 221.41L686.50 226.18L687.46 228.09L688.41 229.04L690.33 230M692.24 230L694.14 229.04L695.10 228.09L696.05 226.18L697.01 221.41L697.01 218.54L696.05 213.76L695.10 211.85L694.14 210.90L692.24 209.94M715.15 212.81L714.20 213.76L715.15 214.72L716.11 213.76L716.11 212.81L715.15 210.90L713.25 209.94L710.38 209.94L707.51 210.90L705.61 212.81L704.65 214.72L703.69 218.54L703.69 224.27L704.65 227.13L706.56 229.04L709.42 230L711.34 230L714.20 229.04L716.11 227.13L717.07 224.27L717.07 223.31L716.11 220.45L714.20 218.54L711.34 217.59L710.38 217.59L707.51 218.54L705.61 220.45L704.65 223.31M710.38 209.94L708.47 210.90L706.56 212.81L705.61 214.72L704.65 218.54L704.65 224.27L705.61 227.13L707.51 229.04L709.42 230M711.34 230L713.25 229.04L715.15 227.13L716.11 224.27L716.11 223.31L715.15 220.45L713.25 218.54L711.34 217.59" fill="none" stroke="#00f" stroke-width="2.20" stroke-linecap="round" stroke-linejoin="round"/>
</svg>
</body></html>
